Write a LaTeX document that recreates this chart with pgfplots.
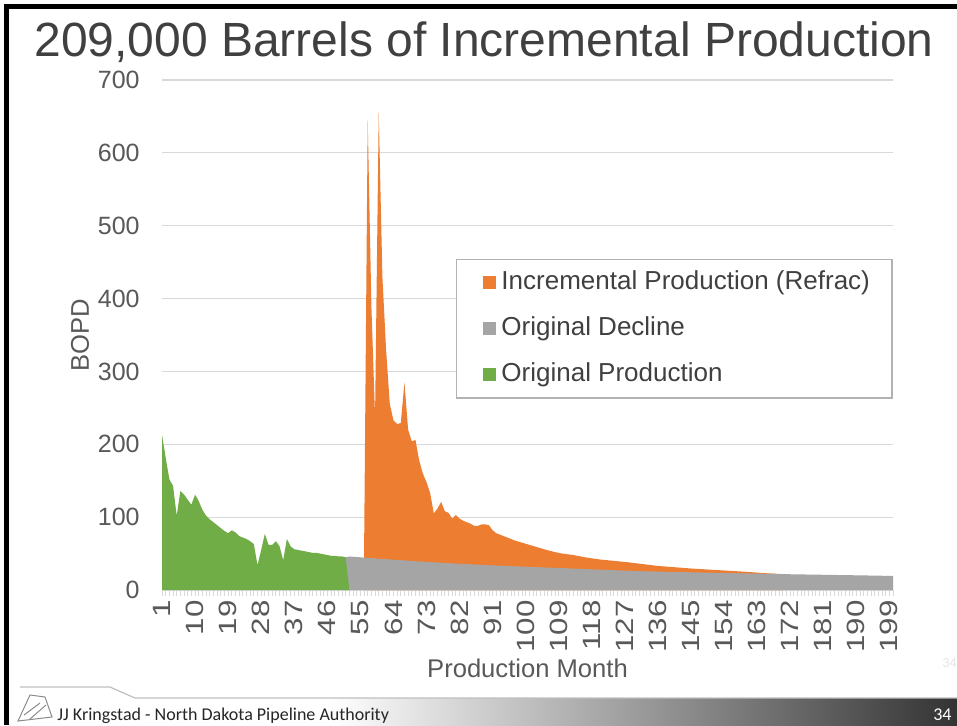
\documentclass[border=0pt]{standalone}
\usepackage{fontspec}
\setmainfont{Liberation Sans}
\newfontfamily\calibri{Carlito}
\usepackage{pgfplots}
\pgfplotsset{compat=1.18}
\definecolor{cOrange}{HTML}{ED7D31}
\definecolor{cGray}{HTML}{A5A5A5}
\definecolor{cGreen}{HTML}{70AD47}
\definecolor{cText}{HTML}{595959}
\definecolor{cTitle}{HTML}{404040}
\definecolor{cGrid}{HTML}{D9D9D9}
\begin{document}
\begin{tikzpicture}[x=0.5pt,y=0.5pt]
\useasboundingbox (0,0) rectangle (957,725);
\fill[white] (0,0) rectangle (957,725);
% footer
\shade[left color=white, right color=black!80] (330,0) rectangle (957,27);
\draw[black!25, line width=0.6pt] (20,38) -- (110,38) -- (135,27) -- (957,27);
\draw[black!45, line width=0.5pt] (18,4) -- (30,30) -- (45,28) -- (52,8) -- cycle;
\draw[black!45, line width=0.5pt] (24,10) -- (40,22) (30,6) -- (46,20);
\node[anchor=base west, inner sep=0pt, font=\calibri\fontsize{9}{10}\selectfont, text=black!85] at (57,5) {JJ Kringstad - North Dakota Pipeline Authority};
\node[anchor=base east, inner sep=0pt, font=\calibri\fontsize{9}{10}\selectfont, text=white] at (952,5) {34};
\node[anchor=base east, inner sep=0pt, font=\calibri\fontsize{7}{8}\selectfont, text=black!10] at (957,58) {34};
% frame
\draw[black, line width=2.5pt] (6.5,0) -- (6.5,718) -- (957,718);
% title
\node[font=\fontsize{24}{28}\selectfont, text=cTitle] at (484,683) {209,000 Barrels of Incremental Production};
\begin{axis}[
  at={(81pt,67.5pt)}, anchor=south west,
  scale only axis, width=365.5pt, height=255pt,
  xmin=1, xmax=200, ymin=0, ymax=700,
  ytick={0,100,...,700},
  xtick={1,10,...,199},
  minor xtick={1,...,200},
  ymajorgrids, grid style={cGrid, line width=0.6pt},
  axis x line*=bottom, axis y line*=left,
  x axis line style={cGrid, line width=0.6pt},
  y axis line style={draw=none},
  ytick style={draw=none},
  xtick style={cGrid, line width=0.4pt},
  tick align=outside,
  major tick length=3pt, minor tick length=3pt,
  /pgf/number format/assume math mode=true,
  /pgf/number format/1000 sep={},
  ticklabel style={font=\fontsize{12.5}{14}\selectfont, text=cText},
  yticklabel style={anchor=east, inner sep=0pt, xshift=-8pt},
  xticklabel={\scalebox{1.25}[1]{\pgfmathprintnumber{\tick}}},
  xticklabel style={rotate=90, anchor=east, inner xsep=2pt, inner ysep=0pt},
  xlabel={Production Month}, ylabel={BOPD},
  label style={font=\fontsize{12.8}{14}\selectfont, text=cText},
  xlabel style={at={(axis description cs:0.5,-0.153)}, anchor=center},
  ylabel style={at={(axis description cs:-0.1122,0.5)}, anchor=center, rotate=0},
  legend style={at={(0.402,0.649)}, anchor=north west, draw=black!30, line width=0.6pt, fill=white,
    font=\fontsize{13}{15}\selectfont, text=cTitle, inner xsep=11pt, inner ysep=5.8pt,
    row sep=11.4pt, column sep=2.5pt,
    nodes={inner sep=0pt, text height=9pt, text depth=2.6pt}},
  legend cell align=left,
  legend image code/.code={\path (0pt,0pt); \fill[#1] (2.5pt,-3.25pt) rectangle (9pt,3.25pt);},
]
% Incremental production (top edge = total)
\addplot[draw=none, fill=cOrange] coordinates {
(56,44) (57,645) (58,390) (59,238) (60,655) (61,430) (62,330) (63,256) (64,233)
(65,228) (66,229) (67,285) (68,220) (69,204) (70,206) (71,178) (72,160) (73,148)
(74,133) (75,105) (76,112) (77,121) (78,108) (79,106) (80,98) (81,103) (82,98)
(83,95) (84,93) (85,91) (86,88) (87,88) (88,90) (89,90) (90,89) (91,82) (92,78)
(93,76) (94,74) (95,72) (96,70) (97,68) (98,66.5) (99,65) (100,63.5) (102,60.5)
(104,57.5) (106,54.5) (108,52) (110,50) (113,48) (116,45) (120,42) (124,40)
(128,38) (132,35.5) (136,33) (140,31.5) (145,29.5) (150,28) (155,26.5) (160,25)
(165,23.2) (170,21.8)
} \closedcycle;
\addlegendentry{Incremental Production (Refrac)}
% Original decline
\addplot[draw=none, fill=cGray] coordinates {
(51,45) (52,46) (60,43) (70,39.5) (80,36.5) (90,34) (100,32) (110,30) (120,28)
(130,26) (140,24.8) (150,23.8) (160,22.8) (170,21.8) (180,21) (190,20.2) (200,19.3)
} \closedcycle;
\addlegendentry{Original Decline}
% Original production
\addplot[draw=none, fill=cGreen] coordinates {
(1,213) (2,182) (3,152) (4,143) (5,102) (6,136) (7,131) (8,124) (9,117) (10,131)
(11,122) (12,110) (13,102) (14,97) (15,93) (16,89) (17,85) (18,81) (19,78) (20,82)
(21,79) (22,74) (23,72) (24,70) (25,67) (26,63) (27,34) (28,55) (29,77) (30,62)
(31,62) (32,67) (33,60) (34,41) (35,70) (36,60) (37,56) (38,55) (39,54) (40,53)
(41,52) (42,51) (43,51) (44,50) (45,49) (46,48) (47,47) (48,47) (49,46) (50,46)
(51,45) (52,0)
} \closedcycle;
\addlegendentry{Original Production}
\end{axis}
\end{tikzpicture}
\end{document}
